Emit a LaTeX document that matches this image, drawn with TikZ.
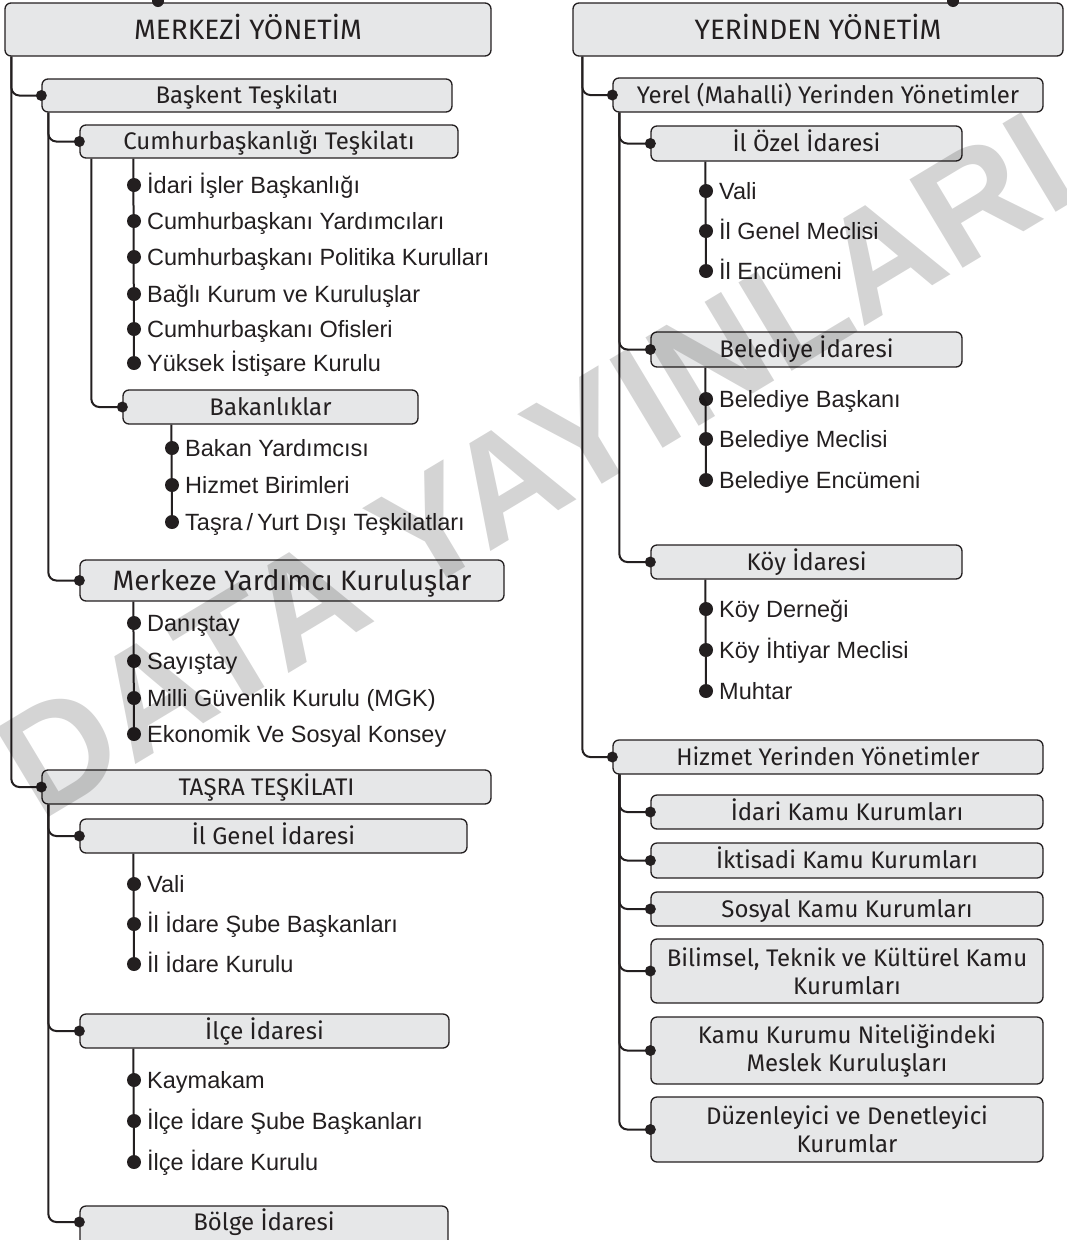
\documentclass[tikz,border=0pt]{standalone}
\usepackage{fontspec}
\setmainfont{Liberation Sans}
\newfontfamily\boxfont{Fira Sans}
\newfontfamily\wmfont{Liberation Sans}
\definecolor{ink}{HTML}{231F20}
\definecolor{boxfill}{HTML}{E6E7E8}
\newcommand\BX[7]{\node[bx,minimum width={#4-#2},minimum height={#5-#3},#7] (#1) at ({(#2+#4)/2},{(#3+#5)/2}) {#6};}
\newcommand\ITM[4]{\coordinate (#1) at (#2,#3); \node[itm] (#1t) at ({#2+13},{#3+8.4}) {#4};}
\begin{document}
\begin{tikzpicture}[x=1pt,y=-1pt,
  bx/.style={draw=ink,fill=boxfill,line width=1.3pt,rounded corners=6pt,inner sep=0pt,text=ink,
    font=\boxfont\fontsize{24}{28}\selectfont,align=center,text height=16.5pt,text depth=0pt},
  bxbig/.style={font=\boxfont\fontsize{28}{32}\selectfont,text height=19.3pt},
  bxtwo/.style={text height=,text depth=},
  conn/.style={draw=ink,line width=2pt,rounded corners=8pt},
  itm/.style={anchor=base west,inner sep=0pt,text=ink,font=\fontsize{23.5}{28}\selectfont},
  bdot/.style={fill=ink},
  wm/.style={text=black,text opacity=0.17,font=\wmfont\bfseries\fontsize{150}{150}\selectfont,inner sep=0pt}
]
\useasboundingbox (0,0) rectangle (1067,1240);
\clip (0,0) rectangle (1067,1240);

% ---------- LEFT ----------
\BX{merk}{5}{3}{491}{56}{MERKEZİ YÖNETİM}{bxbig}
\BX{bask}{42}{79}{452}{112}{Başkent Teşkilatı}{}
\BX{cumh}{80}{125}{458}{158}{Cumhurbaşkanlığı Teşkilatı}{}
\BX{bakan}{123}{390}{418}{424}{Bakanlıklar}{}
\BX{merkeze}{80}{560}{504}{601}{Merkeze Yardımcı Kuruluşlar}{bxbig}
\BX{tasra}{42}{770}{491}{804}{TAŞRA TEŞKİLATI}{}
\BX{ilgenel}{80}{819}{467}{853}{İl Genel İdaresi}{}
\BX{ilce}{80}{1014}{449}{1048}{İlçe İdaresi}{}
\BX{bolge}{80}{1206}{448}{1272}{\raisebox{17pt}{Bölge İdaresi}}{}

\ITM{c1}{134}{185}{İdari İşler Başkanlığı}
\ITM{c2}{134}{221}{Cumhurbaşkanı Yardımcıları}
\ITM{c3}{134}{257}{Cumhurbaşkanı Politika Kurulları}
\ITM{c4}{134}{294}{Bağlı Kurum ve Kuruluşlar}
\ITM{c5}{134}{329}{Cumhurbaşkanı Ofisleri}
\ITM{c6}{134}{363}{Yüksek İstişare Kurulu}
\ITM{b1}{172}{448}{Bakan Yardımcısı}
\ITM{b2}{172}{485}{Hizmet Birimleri}
\ITM{b3}{172}{522}{Taşra\,/\,Yurt Dışı Teşkilatları}
\ITM{m1}{134}{623}{Danıştay}
\ITM{m2}{134}{661}{Sayıştay}
\ITM{m3}{134}{698}{Milli Güvenlik Kurulu (MGK)}
\ITM{m4}{134}{734}{Ekonomik Ve Sosyal Konsey}
\ITM{g1}{134}{884}{Vali}
\ITM{g2}{134}{924}{İl İdare Şube Başkanları}
\ITM{g3}{134}{964}{İl İdare Kurulu}
\ITM{i1}{134}{1080}{Kaymakam}
\ITM{i2}{134}{1121}{İlçe İdare Şube Başkanları}
\ITM{i3}{134}{1162}{İlçe İdare Kurulu}

% ---------- RIGHT ----------
\BX{yer}{573}{3}{1063}{56}{YERİNDEN YÖNETİM}{bxbig}
\BX{yerel}{613}{78}{1043}{112}{Yerel (Mahalli) Yerinden Yönetimler}{}
\BX{ilozel}{651}{126}{962}{161}{İl Özel İdaresi}{}
\BX{beled}{651}{332}{962}{367}{Belediye İdaresi}{}
\BX{koy}{651}{545}{962}{579}{Köy İdaresi}{}
\BX{hizmet}{613}{740}{1043}{774}{Hizmet Yerinden Yönetimler}{}
\BX{idari}{651}{795}{1043}{829}{İdari Kamu Kurumları}{}
\BX{iktisadi}{651}{843}{1043}{878}{İktisadi Kamu Kurumları}{}
\BX{sosyal}{651}{892}{1043}{926}{Sosyal Kamu Kurumları}{}
\BX{bilim}{651}{939}{1043}{1003}{Bilimsel, Teknik ve Kültürel Kamu\\Kurumları}{bxtwo}
\BX{kamu}{651}{1017}{1043}{1084}{Kamu Kurumu Niteliğindeki\\Meslek Kuruluşları}{bxtwo}
\BX{duzen}{651}{1097}{1043}{1162}{Düzenleyici ve Denetleyici\\Kurumlar}{bxtwo}

\ITM{o1}{706}{191}{Vali}
\ITM{o2}{706}{231}{İl Genel Meclisi}
\ITM{o3}{706}{271}{İl Encümeni}
\ITM{e1}{706}{399}{Belediye Başkanı}
\ITM{e2}{706}{439}{Belediye Meclisi}
\ITM{e3}{706}{480}{Belediye Encümeni}
\ITM{k1}{706}{609}{Köy Derneği}
\ITM{k2}{706}{650}{Köy İhtiyar Meclisi}
\ITM{k3}{706}{691}{Muhtar}

% ---------- CONNECTORS ----------
\coordinate (bolgein) at ([yshift=17pt]bolge.west);
\draw[conn] ([xshift=7pt]merk.south west) |- (bask.west);
\draw[conn] ([xshift=7pt]merk.south west) |- (tasra.west);
\draw[conn] ([xshift=7pt]bask.south west) |- (cumh.west);
\draw[conn] ([xshift=7pt]bask.south west) |- (merkeze.west);
\draw[conn] ([xshift=12pt]cumh.south west) |- (bakan.west);
\draw[conn] ([xshift=54pt]cumh.south west) -- (c6);
\draw[conn] ([xshift=49pt]bakan.south west) -- (b3);
\draw[conn] ([xshift=54pt]merkeze.south west) -- (m4);
\draw[conn] ([xshift=7pt]tasra.south west) |- (ilgenel.west);
\draw[conn] ([xshift=7pt]tasra.south west) |- (ilce.west);
\draw[conn] ([xshift=7pt]tasra.south west) |- (bolgein);
\draw[conn] ([xshift=54pt]ilgenel.south west) -- (g3);
\draw[conn] ([xshift=54pt]ilce.south west) -- (i3);

\draw[conn] ([xshift=10pt]yer.south west) |- (yerel.west);
\draw[conn] ([xshift=10pt]yer.south west) |- (hizmet.west);
\draw[conn] ([xshift=7pt]yerel.south west) |- (ilozel.west);
\draw[conn] ([xshift=7pt]yerel.south west) |- (beled.west);
\draw[conn] ([xshift=7pt]yerel.south west) |- (koy.west);
\draw[conn] ([xshift=55pt]ilozel.south west) -- (o3);
\draw[conn] ([xshift=55pt]beled.south west) -- (e3);
\draw[conn] ([xshift=55pt]koy.south west) -- (k3);
\foreach \n in {idari,iktisadi,sosyal,bilim,kamu,duzen}
  \draw[conn] ([xshift=7pt]hizmet.south west) |- (\n.west);

% ---------- DOTS ----------
\foreach \n in {bask,cumh,bakan,merkeze,tasra,ilgenel,ilce,yerel,ilozel,beled,koy,hizmet,idari,iktisadi,sosyal,bilim,kamu,duzen}
  \fill[bdot] (\n.west) circle (5.5pt);
\fill[bdot] (bolgein) circle (5.5pt);
\fill[bdot] (158,1) circle (6pt);
\fill[bdot] (953,1) circle (6pt);
\foreach \n in {c1,c2,c3,c4,c5,c6,b1,b2,b3,m1,m2,m3,m4,g1,g2,g3,i1,i2,i3,o1,o2,o3,e1,e2,e3,k1,k2,k3}
  \fill[bdot] (\n) circle (7pt);

% ---------- WATERMARK ----------
\node[wm,rotate=31] (wmark) at (535,465) {DATA YAYINLARI};
\end{tikzpicture}
\end{document}
